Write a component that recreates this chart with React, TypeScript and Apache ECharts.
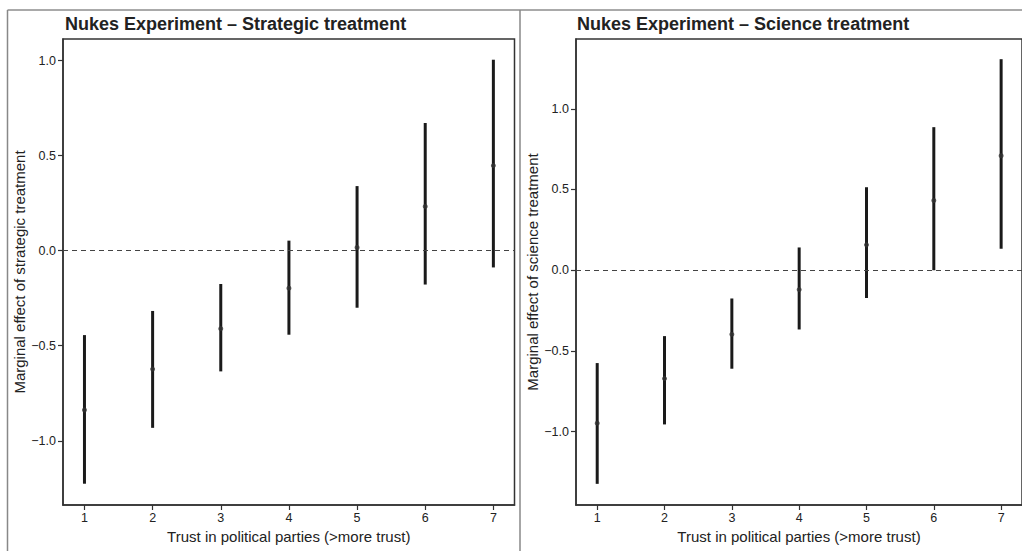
import React, { useEffect, useRef } from "react";
import * as echarts from "echarts";

const xTicks = [1, 2, 3, 4, 5, 6, 7];
const yTicks = [-1, -0.5, 0, 0.5, 1];

const strategicEst = [-0.838, -0.623, -0.41, -0.197, 0.017, 0.233, 0.448];
const strategicLow = [-1.226, -0.932, -0.635, -0.442, -0.3, -0.178, -0.088];
const strategicHigh = [-0.444, -0.317, -0.175, 0.053, 0.34, 0.672, 1.005];

const scienceEst = [-0.947, -0.671, -0.397, -0.12, 0.157, 0.432, 0.709];
const scienceLow = [-1.323, -0.955, -0.61, -0.367, -0.172, 0.0, 0.133];
const scienceHigh = [-0.575, -0.408, -0.175, 0.141, 0.514, 0.886, 1.307];

const FONT = "Liberation Sans, Arial, Helvetica, sans-serif";
const AX = "#333333";

function fmt(v: number) {
  return v < 0 ? "\u2212" + Math.abs(v).toFixed(1) : v.toFixed(1);
}

export default function App() {
  const ref = useRef<HTMLDivElement>(null);
  useEffect(() => {
    document.body.style.margin = "0";
    if (!ref.current) return;
    const chart = echarts.init(ref.current, undefined, { renderer: "svg" });

    const mkX = (gi: number) => ({
      type: "value",
      gridIndex: gi,
      min: 0.685,
      max: 7.31,
      name: "Trust in political parties (>more trust)",
      nameLocation: "middle",
      nameGap: 21,
      nameTextStyle: { fontFamily: FONT, fontSize: 15, color: "#222" },
      axisLine: { show: true, onZero: false, lineStyle: { color: AX, width: 1.5 } },
      splitLine: { show: false },
      axisTick: { show: true, inside: false, length: 5, lineStyle: { color: AX, width: 1.2 }, customValues: xTicks },
      axisLabel: { fontFamily: FONT, fontSize: 12.5, color: "#222", margin: 6, customValues: xTicks },
    });
    const mkY = (gi: number, min: number, max: number, name: string, gap: number) => ({
      type: "value",
      gridIndex: gi,
      min,
      max,
      name,
      nameLocation: "middle",
      nameGap: gap,
      nameTextStyle: { fontFamily: FONT, fontSize: 15, color: "#222" },
      axisLine: { show: true, onZero: false, lineStyle: { color: AX, width: 1.5 } },
      splitLine: { show: false },
      axisTick: { show: true, inside: false, length: 5, lineStyle: { color: AX, width: 1.2 }, customValues: yTicks },
      axisLabel: { fontFamily: FONT, fontSize: 12.5, color: "#222", margin: 7, formatter: fmt, customValues: yTicks },
    });

    const mkBars = (low: number[], high: number[]) =>
      xTicks.map((x, i) => [x, low[i], high[i]]);
    const mkPts = (est: number[]) => xTicks.map((x, i) => [x, est[i]]);

    const renderBar = (params: any, api: any) => {
      const x = api.value(0);
      const p1 = api.coord([x, api.value(1)]);
      const p2 = api.coord([x, api.value(2)]);
      return {
        type: "line",
        shape: { x1: p1[0], y1: p1[1], x2: p2[0], y2: p2[1] },
        style: { stroke: "#1a1a1a", lineWidth: 3 },
      };
    };

    const zeroLine = {
      silent: true,
      symbol: "none",
      label: { show: false },
      lineStyle: { color: "#444", type: [5, 4], width: 1 },
      data: [{ yAxis: 0 }],
    };

    chart.setOption({
      animation: false,
      backgroundColor: "#fff",
      title: [
        {
          text: "Nukes Experiment \u2013 Strategic treatment",
          left: 60,
          top: 10,
          textStyle: { fontFamily: FONT, fontSize: 18, fontWeight: "bold", color: "#222" },
        },
        {
          text: "Nukes Experiment \u2013 Science treatment",
          left: 572,
          top: 10,
          textStyle: { fontFamily: FONT, fontSize: 18, fontWeight: "bold", color: "#222" },
        },
      ],
      grid: [
        { left: 63, top: 39, width: 451.5, height: 466, show: true, borderColor: AX, borderWidth: 1.5, backgroundColor: "transparent", containLabel: false },
        { left: 576, top: 39, width: 451.5, height: 466, show: true, borderColor: AX, borderWidth: 1.5, backgroundColor: "transparent", containLabel: false },
      ],
      xAxis: [mkX(0), mkX(1)],
      yAxis: [
        mkY(0, -1.338, 1.114, "Marginal effect of strategic treatment", 35),
        mkY(1, -1.454, 1.432, "Marginal effect of science treatment", 29),
      ],
      graphic: [
        { type: "line", shape: { x1: 7.5, y1: 10, x2: 1022, y2: 10 }, style: { stroke: "#555", lineWidth: 1 } },
        { type: "line", shape: { x1: 7.5, y1: 10, x2: 7.5, y2: 551 }, style: { stroke: "#888", lineWidth: 1.5 } },
        { type: "line", shape: { x1: 520, y1: 10, x2: 520, y2: 551 }, style: { stroke: "#888", lineWidth: 1.5 } },
      ],
      series: [
        {
          type: "custom",
          xAxisIndex: 0,
          yAxisIndex: 0,
          renderItem: renderBar,
          encode: { x: 0, y: [1, 2] },
          data: mkBars(strategicLow, strategicHigh),
          markLine: zeroLine,
          z: 2,
        },
        {
          type: "scatter",
          xAxisIndex: 0,
          yAxisIndex: 0,
          symbolSize: 5,
          itemStyle: { color: "#333" },
          data: mkPts(strategicEst),
          z: 3,
        },
        {
          type: "custom",
          xAxisIndex: 1,
          yAxisIndex: 1,
          renderItem: renderBar,
          encode: { x: 0, y: [1, 2] },
          data: mkBars(scienceLow, scienceHigh),
          markLine: zeroLine,
          z: 2,
        },
        {
          type: "scatter",
          xAxisIndex: 1,
          yAxisIndex: 1,
          symbolSize: 5,
          itemStyle: { color: "#333" },
          data: mkPts(scienceEst),
          z: 3,
        },
      ],
    });
    return () => chart.dispose();
  }, []);
  return <div ref={ref} style={{ width: 1022, height: 551 }} />;
}
